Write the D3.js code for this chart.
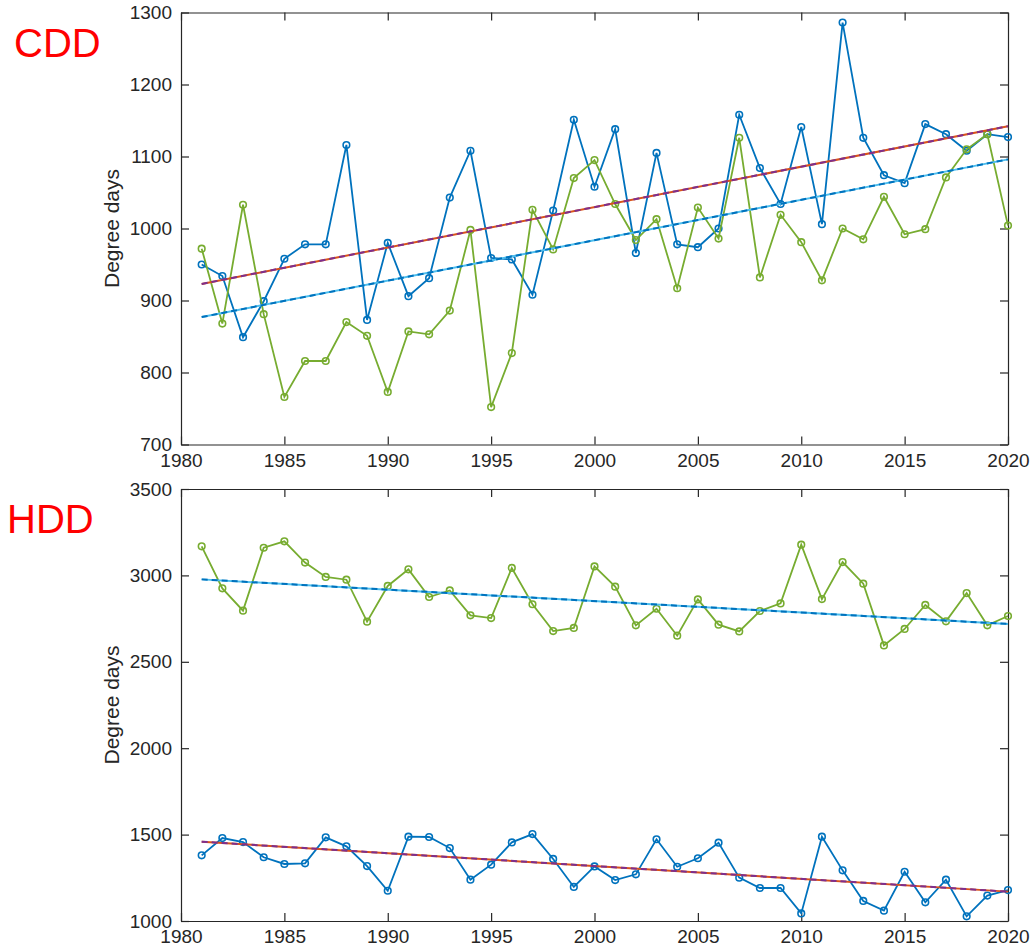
<!DOCTYPE html>
<html>
<head>
<meta charset="utf-8">
<script src="https://cdn.jsdelivr.net/npm/d3@7"></script>
<style>
  body { margin: 0; background: #fff; }
  svg { display: block; font-family: "Liberation Sans", Arial, sans-serif; }
</style>
</head>
<body>
<svg id="chart" width="1031" height="951"></svg>
<script>
// =============================================================================
// CDD / HDD degree days, 1981-2020
// =============================================================================

const years = d3.range(1981, 2021);
const xTicks = [1980, 1985, 1990, 1995, 2000, 2005, 2010, 2015, 2020];

const cddBlue = [950, 934, 849, 899, 958, 978, 978, 1116, 873, 980,
  906, 931, 1043, 1108, 959, 957, 908, 1025, 1151, 1058,
  1138, 966, 1105, 978, 974, 1000, 1158, 1084, 1034, 1141,
  1006, 1286, 1126, 1074, 1063, 1145, 1131, 1108, 1131, 1127];
const cddGreen = [972, 868, 1033, 881, 766, 816, 816, 870, 851, 773,
  857, 853, 886, 998, 752, 827, 1026, 971, 1070, 1095,
  1034, 984, 1013, 917, 1029, 986, 1126, 932, 1019, 981,
  928, 1000, 985, 1044, 992, 999, 1071, 1110, 1131, 1004];
const hddGreen = [3168, 2925, 2796, 3160, 3197, 3074, 2991, 2975, 2732, 2939,
  3035, 2875, 2913, 2769, 2753, 3043, 2833, 2678, 2696, 3052,
  2935, 2711, 2807, 2651, 2861, 2715, 2676, 2794, 2838, 3178,
  2863, 3077, 2952, 2595, 2690, 2829, 2734, 2898, 2711, 2765];
const hddBlue = [1380, 1480, 1457, 1369, 1330, 1334, 1484, 1432, 1318, 1175,
  1488, 1486, 1422, 1239, 1326, 1455, 1503, 1359, 1197, 1316,
  1237, 1270, 1473, 1314, 1363, 1453, 1251, 1191, 1191, 1044,
  1488, 1293, 1116, 1060, 1285, 1108, 1239, 1027, 1147, 1179];

// trend line end points (1981 and 2020)
const trendYears = [1981, 2020];
const cddBlueTrend = [923, 1142];
const cddGreenTrend = [877, 1096];
const hddGreenTrend = [2977, 2719];
const hddBlueTrend = [1459, 1170];

const cddTicks = [700, 800, 900, 1000, 1100, 1200, 1300];
const hddTicks = [1000, 1500, 2000, 2500, 3000, 3500];

const BLUE = '#0072BD', GREEN = '#77AC30', ORANGE = '#D95319',
  PURPLE = '#7E2F8E', LIGHTBLUE = '#4DBEEE', AXIS = '#262626';

const svg = d3.select('#chart');

/**
 * Draw one MATLAB-style panel
 */
function drawPanel(opts) {
  const { top, bottom, left, right, yDomain, yTicks, series, trends, title, titleY } = opts;

  const x = d3.scaleLinear().domain([1980, 2020]).range([left, right]);
  const y = d3.scaleLinear().domain(yDomain).range([bottom, top]);
  const g = svg.append('g');
  const tickLen = 8;

  // axes: bottom/top/left/right, ticks pointing inward
  const axes = [
    { axis: d3.axisBottom(x).tickValues(xTicks).tickFormat(d3.format('d')).tickSizeInner(-tickLen), pos: `translate(0,${bottom})`, labels: true },
    { axis: d3.axisTop(x).tickValues(xTicks).tickFormat('').tickSizeInner(-tickLen), pos: `translate(0,${top})` },
    { axis: d3.axisLeft(y).tickValues(yTicks).tickFormat(d3.format('d')).tickSizeInner(-tickLen), pos: `translate(${left},0)`, labels: true },
    { axis: d3.axisRight(y).tickValues(yTicks).tickFormat('').tickSizeInner(-tickLen), pos: `translate(${right},0)` }
  ];
  axes.forEach(a => {
    const ag = g.append('g')
      .attr('transform', a.pos)
      .call(a.axis.tickSizeOuter(0).tickPadding(9));
    ag.select('.domain').attr('stroke', AXIS).attr('stroke-width', 1.2);
    ag.selectAll('.tick line').attr('stroke', AXIS).attr('stroke-width', 1.2);
    ag.selectAll('.tick text')
      .attr('fill', AXIS)
      .attr('font-size', '19px')
      .attr('font-family', '"Liberation Sans", Arial, sans-serif');
  });

  // y label
  g.append('text')
    .attr('transform', `translate(119,${(top + bottom) / 2}) rotate(-90)`)
    .attr('text-anchor', 'middle')
    .attr('font-size', '21px')
    .attr('fill', AXIS)
    .text('Degree days');

  // panel title
  g.append('text')
    .attr('x', opts.titleX)
    .attr('y', titleY)
    .attr('font-size', '40px')
    .attr('fill', '#FF0000')
    .text(title);

  const line = d3.line()
    .x((d, i) => x(years[i]))
    .y(d => y(d));

  series.forEach(s => {
    g.append('path')
      .datum(s.values)
      .attr('fill', 'none')
      .attr('stroke', s.color)
      .attr('stroke-width', 1.8)
      .attr('d', line);

    g.selectAll(null)
      .data(s.values)
      .enter()
      .append('circle')
      .attr('cx', (d, i) => x(years[i]))
      .attr('cy', d => y(d))
      .attr('r', 3.3)
      .attr('fill', 'none')
      .attr('stroke', s.color)
      .attr('stroke-width', 1.6);
  });

  const trendLine = d3.line()
    .x((d, i) => x(trendYears[i]))
    .y(d => y(d));

  trends.forEach(t => {
    g.append('path')
      .datum(t.values)
      .attr('fill', 'none')
      .attr('stroke', t.under)
      .attr('stroke-width', 2)
      .attr('d', trendLine);
    g.append('path')
      .datum(t.values)
      .attr('fill', 'none')
      .attr('stroke', t.over)
      .attr('stroke-width', 2)
      .attr('stroke-dasharray', '6,4')
      .attr('d', trendLine);
  });
}

drawPanel({
  top: 12.5, bottom: 444.5, left: 181, right: 1008,
  yDomain: [700, 1300], yTicks: cddTicks,
  series: [{ values: cddBlue, color: BLUE }, { values: cddGreen, color: GREEN }],
  trends: [
    { values: cddBlueTrend, under: ORANGE, over: PURPLE },
    { values: cddGreenTrend, under: LIGHTBLUE, over: BLUE }
  ],
  title: 'CDD', titleX: 14, titleY: 57
});

drawPanel({
  top: 489, bottom: 921, left: 181, right: 1008,
  yDomain: [1000, 3500], yTicks: hddTicks,
  series: [{ values: hddGreen, color: GREEN }, { values: hddBlue, color: BLUE }],
  trends: [
    { values: hddGreenTrend, under: LIGHTBLUE, over: BLUE },
    { values: hddBlueTrend, under: ORANGE, over: PURPLE }
  ],
  title: 'HDD', titleX: 7, titleY: 533
});
</script>
</body>
</html>
